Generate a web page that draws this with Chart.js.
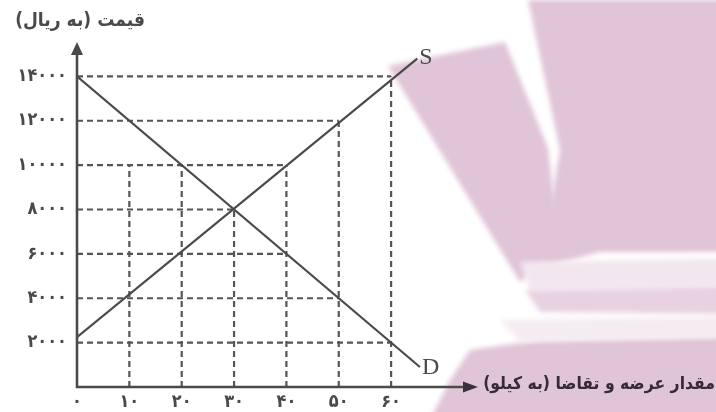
<!DOCTYPE html>
<html><head><meta charset="utf-8">
<script src="https://cdn.jsdelivr.net/npm/chart.js@4/dist/chart.umd.min.js"></script>
<style>html,body{margin:0;padding:0;background:#fff;overflow:hidden}</style>
</head><body>
<canvas id="c" width="716" height="412"></canvas>
<script>
// ---- data ----
const quantityTicks = [0, 10, 20, 30, 40, 50, 60];
const priceTicks = [2000, 4000, 6000, 8000, 10000, 12000, 14000];
const supplyQty = [0, 65];
const supplyPrice = [2250, 14800];
const demandQty = [0, 65.5];
const demandPrice = [14000, 900];
const hGuidePrice = [14000, 12000, 10000, 8000, 6000, 4000, 2000];
const hGuideQtyEnd = [60, 50, 40, 30, 40, 50, 60];
const vGuideQty = [10, 20, 30, 40, 50, 60];
const vGuidePriceTop = [10000, 10000, 8000, 10000, 12000, 14000];
const curveNames = ['S', 'D'];
const yTitle = 'قیمت (به ریال)';
const xTitle = 'مقدار عرضه و تقاضا (به کیلو)';

const fa = v => String(v).replace(/\d/g, d => '۰۱۲۳۴۵۶۷۸۹'[d]);
const INK = '#4a4a4a';
const FA_FONT = '"DejaVu Sans Condensed", "DejaVu Sans", sans-serif';

const curveStyle = {showLine: true, pointRadius: 0, borderColor: INK, borderWidth: 2.2, fill: false, tension: 0, order: 0};
const guideStyle = {showLine: true, pointRadius: 0, borderColor: '#555', borderWidth: 2.2, borderDash: [6, 4], fill: false, tension: 0, order: 1};

const datasets = [
  Object.assign({label: curveNames[0], data: supplyQty.map((x, i) => ({x, y: supplyPrice[i]}))}, curveStyle),
  Object.assign({label: curveNames[1], data: demandQty.map((x, i) => ({x, y: demandPrice[i]}))}, curveStyle)
];
hGuidePrice.forEach((p, i) => datasets.push(Object.assign({label: 'h' + i, data: [{x: 0, y: p}, {x: hGuideQtyEnd[i], y: p}]}, guideStyle)));
vGuideQty.forEach((q, i) => datasets.push(Object.assign({label: 'v' + i, data: [{x: q, y: 0}, {x: q, y: vGuidePriceTop[i]}]}, guideStyle)));

const watermark = {
  id: 'watermark',
  beforeDraw(chart) {
    const ctx = chart.ctx;
    ctx.save();
    ctx.fillStyle = '#fff';
    ctx.fillRect(0, 0, chart.width, chart.height);
    ctx.filter = 'blur(2.5px)';
    const poly = (pts, col) => {
      ctx.fillStyle = col; ctx.beginPath();
      pts.forEach((p, i) => i ? ctx.lineTo(p[0], p[1]) : ctx.moveTo(p[0], p[1]));
      ctx.closePath(); ctx.fill();
    };
    const pink = 'rgb(224,196,216)';
    poly([[388,66],[505,42],[548,148],[560,250],[520,282]], pink);
    poly([[528,0],[730,0],[730,252],[600,252],[540,268],[560,150]], pink);
    poly([[520,262],[730,258],[730,286],[530,290]], 'rgb(243,231,239)');
    poly([[525,290],[730,286],[730,314],[540,312]], 'rgb(232,210,226)');
    poly([[470,350],[540,340],[730,336],[730,420],[430,420],[450,380]], pink);
    poly([[500,320],[730,316],[730,338],[520,342]], 'rgb(245,236,242)');
    ctx.restore();
  }
};

function fitFont(ctx, text, width, weight) {
  let size = 30;
  ctx.font = `${weight} ${size}px ${FA_FONT}`;
  size = size * width / ctx.measureText(text).width;
  ctx.font = `${weight} ${size}px ${FA_FONT}`;
}

const decorations = {
  id: 'decorations',
  afterDatasetsDraw(chart) {
    const ctx = chart.ctx, a = chart.chartArea;
    ctx.save();
    // axes
    ctx.strokeStyle = INK; ctx.fillStyle = INK; ctx.lineWidth = 2.6; ctx.lineCap = 'butt';
    ctx.beginPath();
    ctx.moveTo(a.left, a.top + 10); ctx.lineTo(a.left, a.bottom);
    ctx.lineTo(a.right - 10, a.bottom);
    ctx.stroke();
    ctx.beginPath();
    ctx.moveTo(a.left, a.top); ctx.lineTo(a.left - 6, a.top + 13); ctx.lineTo(a.left + 6, a.top + 13); ctx.closePath(); ctx.fill();
    ctx.fillStyle = '#3b2f3b';
    ctx.beginPath();
    ctx.moveTo(a.right, a.bottom); ctx.lineTo(a.right - 15, a.bottom - 5.5); ctx.lineTo(a.right - 15, a.bottom + 5.5); ctx.closePath(); ctx.fill();
    // curve end labels
    ctx.fillStyle = INK;
    ctx.font = '24px "Liberation Serif", "DejaVu Serif", serif';
    ctx.textAlign = 'left'; ctx.textBaseline = 'alphabetic';
    chart.data.datasets.forEach((ds, i) => {
      if (!curveNames.includes(ds.label)) return;
      const pts = chart.getDatasetMeta(i).data;
      const end = pts[pts.length - 1];
      ctx.fillText(ds.label, end.x + 2, end.y + (ds.label === 'S' ? 5 : 7));
    });
    // titles
    ctx.direction = 'rtl';
    ctx.textAlign = 'right';
    ctx.textBaseline = 'middle';
    ctx.fillStyle = INK;
    fitFont(ctx, yTitle, 130, 'bold');
    ctx.fillText(yTitle, 145, 21);
    ctx.fillStyle = '#352a35';
    fitFont(ctx, xTitle, 232, 'bold');
    ctx.fillText(xTitle, 715, a.bottom - 3);
    ctx.restore();
  }
};

new Chart(document.getElementById('c'), {
  type: 'scatter',
  data: {datasets},
  options: {
    responsive: false,
    animation: false,
    devicePixelRatio: 1,
    layout: {padding: {left: 0, right: 238, top: 42, bottom: 0}},
    plugins: {legend: {display: false}, tooltip: {enabled: false}, title: {display: false}},
    scales: {
      x: {
        type: 'linear', min: 0, max: 76.6,
        grid: {display: false, drawTicks: false, tickLength: 0},
        border: {display: false},
        afterBuildTicks: s => { s.ticks = quantityTicks.map(v => ({value: v})); },
        afterFit: s => { s.height = 25; },
        ticks: {callback: v => fa(v), autoSkip: false, maxRotation: 0, padding: 5,
                color: INK, font: {family: FA_FONT, size: 18, weight: 'bold'}}
      },
      y: {
        type: 'linear', min: 0, max: 15550,
        grid: {display: false, drawTicks: false, tickLength: 0},
        border: {display: false},
        afterBuildTicks: s => { s.ticks = priceTicks.map(v => ({value: v})); },
        afterFit: s => { s.width = 77; },
        ticks: {callback: v => fa(v), autoSkip: false, padding: 10,
                color: INK, font: {family: FA_FONT, size: 18, weight: 'bold'}}
      }
    }
  },
  plugins: [watermark, decorations]
});
</script>
</body></html>
